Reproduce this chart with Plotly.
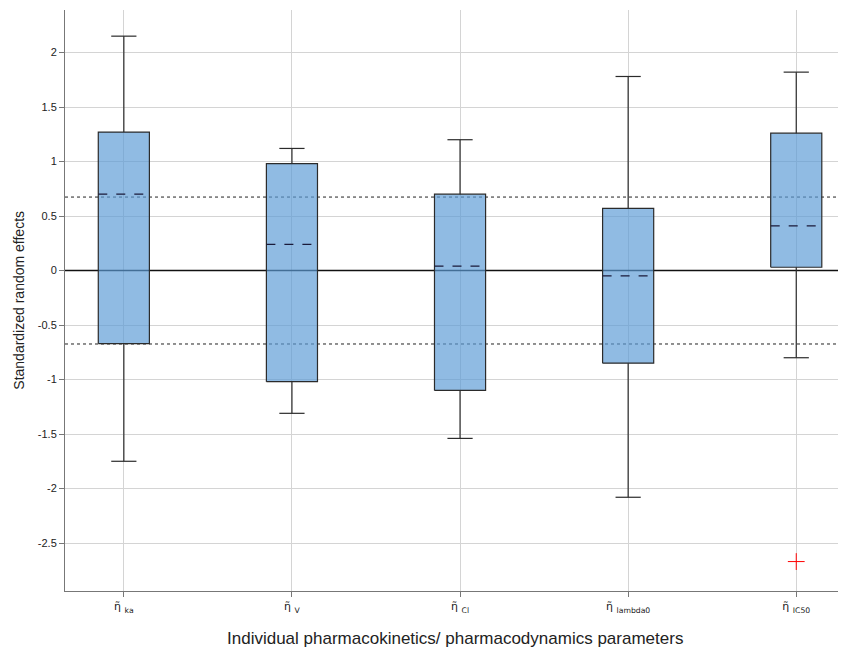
import plotly.graph_objects as go

categories = ["ka", "V", "Cl", "lambda0", "IC50"]
upper_whisker = [2.15, 1.12, 1.20, 1.78, 1.82]
q3 = [1.27, 0.98, 0.70, 0.57, 1.26]
median = [0.70, 0.24, 0.04, -0.05, 0.41]
q1 = [-0.67, -1.02, -1.10, -0.85, 0.03]
lower_whisker = [-1.75, -1.31, -1.54, -2.08, -0.80]
outlier_cat = [4]
outlier_val = [-2.67]
ref_lines = [-0.674, 0.674]

tick_text = ["η̃ <sub>%s</sub>" % c for c in categories]
xs = list(range(len(categories)))
x_range = [-0.35, 4.29]

fig = go.Figure()
bw = 0.152
cw = 0.075
fill = "rgba(91,155,213,0.68)"
edge = "#2b2b2b"

# reference lines (drawn first, beneath semi-transparent boxes)
for r in ref_lines:
    fig.add_trace(go.Scatter(x=x_range, y=[r, r], mode="lines",
                             line=dict(color="#222", width=1, dash="dot"), showlegend=False, hoverinfo="skip"))
fig.add_trace(go.Scatter(x=x_range, y=[0, 0], mode="lines",
                         line=dict(color="#111", width=1.5), showlegend=False, hoverinfo="skip"))

for i in xs:
    fig.add_trace(go.Scatter(x=[i - bw, i + bw, i + bw, i - bw, i - bw],
                             y=[q1[i], q1[i], q3[i], q3[i], q1[i]],
                             fill="toself", fillcolor=fill, mode="lines",
                             line=dict(color=edge, width=1.2), showlegend=False, hoverinfo="skip"))
    fig.add_trace(go.Scatter(x=[i, i, None, i, i], y=[q3[i], upper_whisker[i], None, q1[i], lower_whisker[i]],
                             mode="lines", line=dict(color=edge, width=1.2), showlegend=False, hoverinfo="skip"))
    fig.add_trace(go.Scatter(x=[i - cw, i + cw, None, i - cw, i + cw],
                             y=[upper_whisker[i], upper_whisker[i], None, lower_whisker[i], lower_whisker[i]],
                             mode="lines", line=dict(color=edge, width=1.2), showlegend=False, hoverinfo="skip"))
    fig.add_trace(go.Scatter(x=[i - bw, i + bw], y=[median[i], median[i]], mode="lines",
                             line=dict(color="#1a1a3a", width=1.2, dash="dash"), showlegend=False, hoverinfo="skip"))

fig.add_trace(go.Scatter(x=outlier_cat, y=outlier_val, mode="markers",
                         marker=dict(symbol="cross-thin", size=12, line=dict(color="red", width=1)),
                         showlegend=False))

fig.update_layout(
    width=838, height=643,
    margin=dict(l=57, r=1, t=2, b=60, autoexpand=False),
    paper_bgcolor="white", plot_bgcolor="white",
    font=dict(family="Liberation Sans, Arial", color="#222"),
    annotations=[
        dict(text="Individual pharmacokinetics/ pharmacodynamics parameters", xref="paper", yref="paper",
             x=0.5, y=-0.081, yanchor="middle", xanchor="center", showarrow=False,
             font=dict(size=17, color="#222")),
        dict(text="Standardized random effects", xref="paper", yref="paper",
             x=-0.060, xanchor="center", y=0.5, yanchor="middle", textangle=-90, showarrow=False,
             font=dict(size=14, color="#222", family="Liberation Sans Narrow, Liberation Sans, Arial")),
    ],
)
fig.update_xaxes(range=x_range, tickvals=xs, ticktext=tick_text, automargin=False,
                 showgrid=True, gridcolor="#d4d4d4", gridwidth=1,
                 showline=True, linecolor="#777", linewidth=1,
                 ticks="outside", ticklen=5, tickcolor="#777",
                 tickfont=dict(size=11, color="#222", family="DejaVu Sans"), zeroline=False)
fig.update_yaxes(range=[-2.94, 2.39], tickvals=[-2.5, -2, -1.5, -1, -0.5, 0, 0.5, 1, 1.5, 2],
                 ticktext=["-2.5", "-2", "-1.5", "-1", "-0.5", "0", "0.5", "1", "1.5", "2"],
                 automargin=False,
                 showgrid=True, gridcolor="#d4d4d4", gridwidth=1,
                 showline=True, linecolor="#777", linewidth=1,
                 ticks="outside", ticklen=5, tickcolor="#777",
                 tickfont=dict(size=11, color="#222"), zeroline=False)

fig.write_html("out.html")
